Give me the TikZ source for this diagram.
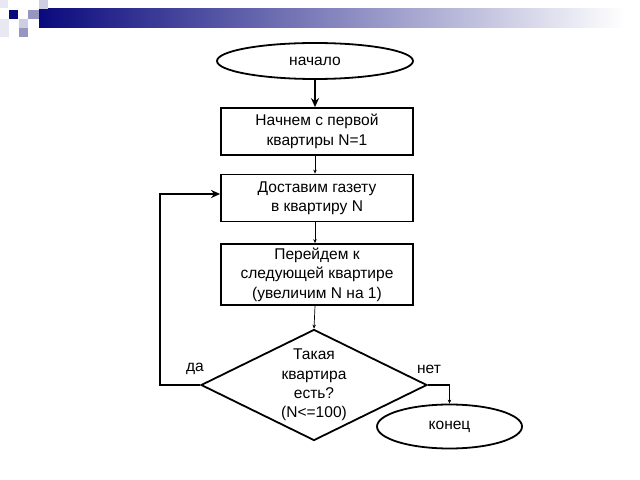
\documentclass[tikz,border=0pt]{standalone}
\usepackage{fontspec}
\setmainfont{Liberation Sans}
\usetikzlibrary{shapes.geometric,arrows.meta}
\definecolor{navyb}{RGB}{10,10,125}
\definecolor{lavl}{RGB}{205,205,228}
\definecolor{lavm}{RGB}{150,150,192}
\definecolor{lavf}{RGB}{232,232,242}
\tikzset{
  txt/.style={font=\fontsize{15.6}{19.5}\selectfont, align=center, text=black},
  procbox/.style={txt, draw, line width=1.8bp, minimum width=192bp, minimum height=47bp, inner sep=0pt},
  term/.style={txt, draw, ellipse, line width=1.8bp, fill=white, inner sep=0pt},
  thickarrow/.style={line width=1.7bp, -{Stealth[length=9bp,width=8bp]}},
  thinarrow/.style={line width=0.7bp, -{Stealth[length=4bp,width=3.5bp]}},
}
\begin{document}
\begin{tikzpicture}[x=1bp,y=-1bp]
\useasboundingbox (0,0) rectangle (640,480);
% header decoration
\shade[left color=navyb, right color=white] (39,9) rectangle (625,28);
\fill[lavf] (0,0) rectangle (8,8);
\fill[lavf] (0,19) rectangle (9,37);
\fill[navyb] (9,10) rectangle (18,19);
\fill[lavl] (39,0) rectangle (48,9);
\fill[lavm] (28,10) rectangle (39,19);
\fill[lavl] (19,19) rectangle (28,28);
\fill[lavm] (19,28) rectangle (28,37);
% nodes
\node[term, minimum width=196bp, minimum height=36bp] (start) at (315,61) {начало};
\node[procbox] (b1) at (317,131.5) {Начнем с первой\\квартиры N=1};
\node[procbox] (b2) at (317,198) {Доставим газету\\в квартиру N};
\node[procbox, minimum height=61bp] (b3) at (317,274.5) {Перейдем к\\следующей квартире\\(увеличим N на 1)};
\node[draw, diamond, line width=1.8bp, minimum width=226bp, minimum height=111bp, inner sep=0pt] (dec) at (314,385) {};
\node[txt] (dtext) at (314,385) {Такая\\квартира\\есть?\\(N<=100)};
\node[term, minimum width=145bp, minimum height=44bp] (end) at (449.5,426.5) {конец};
\node[txt] (yes) at (195,369) {да};
\node[txt] (no) at (429,369) {нет};
% connectors
\coordinate (lp) at (160,194);
\coordinate (rp) at (449.5,385);
\draw[thickarrow] (start.south -| 315,0) -- (b1.north -| 315,0);
\draw[thinarrow] (b1.south -| 315,0) -- (b2.north -| 315,0);
\draw[thinarrow] (b2.south -| 315,0) -- (b3.north -| 315,0);
\draw[thinarrow] (b3.south -| 315,0) -- (dec.north);
\draw[thickarrow] (dec.west) -| (lp) -- (lp -| b2.west);
\draw[line width=1.7bp] (dec.east) -- (rp);
\draw[thinarrow] (rp) -- (end.north);
\end{tikzpicture}
\end{document}
